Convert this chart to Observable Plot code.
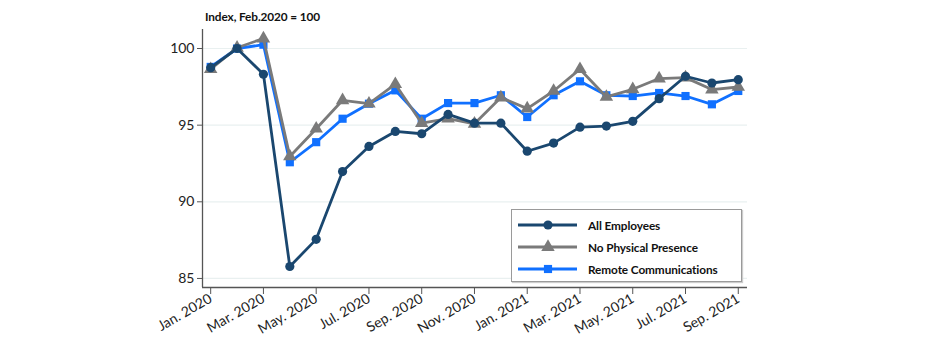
<!DOCTYPE html>
<html>
<head>
<meta charset="utf-8">
<script src="https://cdn.jsdelivr.net/npm/d3@7"></script>
<script src="https://cdn.jsdelivr.net/npm/@observablehq/plot@0.6"></script>
<style>
  html, body { margin: 0; padding: 0; background: #fff; }
  #wrap { position: relative; width: 927px; height: 354px; font-family: Lato, "Open Sans", sans-serif; }
  #title { position: absolute; left: 205px; top: 9px; font-size: 11.8px; font-weight: bold; color: #111; letter-spacing: -0.1px; }
  #legend { position: absolute; left: 511px; top: 209px; width: 229px; height: 71px; border: 1.5px solid #9a9a9a; background: #fff; box-shadow: 1px 1px 1px #ccc; }
  .row { position: absolute; left: 6px; height: 20px; display: flex; align-items: center; }
  .row span { margin-left: 10px; font-size: 11.8px; font-weight: bold; color: #111; letter-spacing: -0.1px; }
</style>
</head>
<body>
<div id="wrap">
  <div id="chart"></div>
  <div id="title">Index, Feb.2020 = 100</div>
  <div id="legend"></div>
</div>
<script>
const months = ["Jan. 2020","Feb. 2020","Mar. 2020","Apr. 2020","May. 2020","Jun. 2020","Jul. 2020","Aug. 2020","Sep. 2020","Oct. 2020","Nov. 2020","Dec. 2020",
                "Jan. 2021","Feb. 2021","Mar. 2021","Apr. 2021","May. 2021","Jun. 2021","Jul. 2021","Aug. 2021","Sep. 2021"];
const tickLabels = ["Jan. 2020","Mar. 2020","May. 2020","Jul. 2020","Sep. 2020","Nov. 2020","Jan. 2021","Mar. 2021","May. 2021","Jul. 2021","Sep. 2021"];
const seriesNames = ["All Employees","No Physical Presence","Remote Communications"];
const allEmployees = [98.75, 100.0, 98.32, 85.78, 87.55, 91.97, 93.61, 94.59, 94.44, 95.70, 95.13, 95.13, 93.30, 93.83, 94.87, 94.94, 95.25, 96.73, 98.19, 97.75, 97.97];
const noPhysical   = [98.65, 100.05, 100.65, 92.96, 94.77, 96.62, 96.40, 97.67, 95.13, 95.42, 95.09, 96.80, 96.08, 97.23, 98.65, 96.84, 97.34, 98.04, 98.10, 97.32, 97.49];
const remoteComm   = [98.80, 100.0, 100.25, 92.58, 93.89, 95.42, 96.40, 97.27, 95.42, 96.44, 96.44, 96.95, 95.53, 96.95, 97.86, 96.95, 96.90, 97.10, 96.90, 96.36, 97.23];
const yTicks = [85, 90, 95, 100];
const colors = ["#1a476f", "#7a7a7a", "#1070ff"];
const symbols = ["circle", "triangle", "square"];

const seriesValues = [allEmployees, noPhysical, remoteComm];
const data = [];
seriesNames.forEach((name, s) => seriesValues[s].forEach((v, i) => data.push({series: name, i, v})));
const drawOrder = [2, 1, 0];

const xDomain = [-0.31, 20.35];
const yDomain = [84.41, 101.24];
const radii = [4.6, 5, 4.6];

const marks = [
  Plot.ruleY(yTicks, {stroke: "#e9f0f0", strokeWidth: 1.2}),
  Plot.ruleX([xDomain[0]], {stroke: "#555", strokeWidth: 1.3}),
  Plot.ruleY([yDomain[0]], {stroke: "#555", strokeWidth: 1.3}),
  Plot.axisY({ticks: yTicks, tickSize: 5, tickPadding: 3, fontSize: 14, label: null, stroke: "#555", fill: "#222"}),
  Plot.axisX({ticks: d3.range(0, 21, 2), tickFormat: i => tickLabels[i / 2], tickSize: 7, tickPadding: 3, tickRotate: -30, fontSize: 14, label: null, stroke: "#555", fill: "#222"})
];
drawOrder.forEach(s => {
  const d = data.filter(r => r.series === seriesNames[s]);
  marks.push(Plot.line(d, {x: "i", y: "v", stroke: colors[s], strokeWidth: 2.8}));
  marks.push(Plot.dot(d, {x: "i", y: "v", fill: colors[s], stroke: "none", symbol: () => symbols[s], r: radii[s]}));
});

const chart = Plot.plot({
  width: 927,
  height: 354,
  marginTop: 29,
  marginBottom: 67,
  marginLeft: 202,
  marginRight: 180,
  style: {fontFamily: "Lato, 'Open Sans', sans-serif", background: "#fff"},
  x: {domain: xDomain},
  y: {domain: yDomain},
  marks
});
document.getElementById("chart").appendChild(chart);

// Legend
const legend = document.getElementById("legend");
seriesNames.forEach((name, s) => {
  const row = document.createElement("div");
  row.className = "row";
  row.style.top = (5 + s * 22.2) + "px";
  const ns = "http://www.w3.org/2000/svg";
  const svg = document.createElementNS(ns, "svg");
  svg.setAttribute("width", 60); svg.setAttribute("height", 20);
  const line = document.createElementNS(ns, "line");
  line.setAttribute("x1", 0); line.setAttribute("x2", 59); line.setAttribute("y1", 10); line.setAttribute("y2", 10);
  line.setAttribute("stroke", colors[s]); line.setAttribute("stroke-width", 2.8);
  svg.appendChild(line);
  const sym = document.createElementNS(ns, "path");
  const symType = [d3.symbolCircle, d3.symbolTriangle, d3.symbolSquare][s];
  sym.setAttribute("d", d3.symbol(symType, Math.PI * radii[s] * radii[s])());
  sym.setAttribute("transform", "translate(30,10)");
  sym.setAttribute("fill", colors[s]);
  svg.appendChild(sym);
  row.appendChild(svg);
  const span = document.createElement("span");
  span.textContent = name;
  row.appendChild(span);
  legend.appendChild(row);
});
</script>
</body>
</html>
